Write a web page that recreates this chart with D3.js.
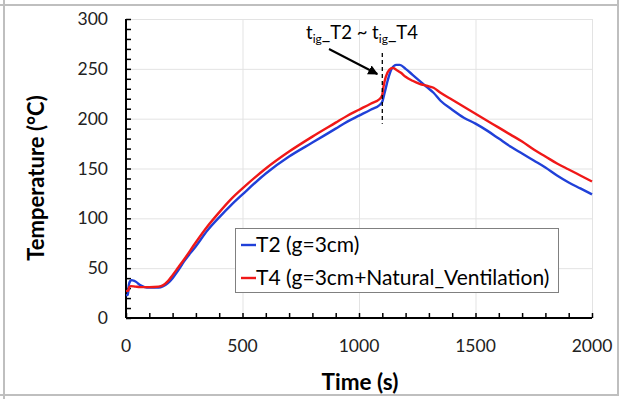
<!DOCTYPE html>
<html>
<head>
<meta charset="utf-8">
<script src="https://cdn.jsdelivr.net/npm/d3@7"></script>
<style>
  body { margin: 0; background: #fff; }
  svg { display: block; font-family: Lato, "Open Sans", sans-serif; }
</style>
</head>
<body>
<svg id="chart" width="622" height="399"></svg>
<script>
// data
const t2Time = [0, 8, 12, 18, 25, 33, 45, 60, 80, 100, 140, 160, 180, 200, 225, 250, 300, 350, 400, 450, 500, 600, 700, 800, 900, 950, 1000, 1050, 1090, 1100, 1110, 1125, 1140, 1160, 1175, 1200, 1230, 1260, 1290, 1320, 1350, 1400, 1450, 1500, 1550, 1600, 1650, 1700, 1750, 1800, 1850, 1900, 1950, 2000];
const t2Temp = [23, 23, 33, 37, 38, 37.5, 36, 33, 31, 30.5, 30.5, 32, 35, 40, 48, 57, 72, 88, 101, 113, 124, 145, 162, 176, 190, 197, 203, 209, 214, 217, 226, 240, 250, 254, 254, 250, 244, 238, 232, 226, 218, 209, 201, 195, 188, 180, 172, 165, 158, 151, 143, 136, 130, 124];

const t4Time = [0, 10, 14, 20, 40, 60, 100, 140, 160, 180, 200, 225, 250, 300, 350, 400, 450, 500, 600, 700, 800, 900, 950, 1000, 1050, 1090, 1100, 1105, 1115, 1130, 1145, 1160, 1180, 1200, 1230, 1260, 1290, 1320, 1350, 1400, 1450, 1500, 1550, 1600, 1650, 1700, 1750, 1800, 1850, 1900, 1950, 2000];
const t4Temp = [27, 27.5, 31, 32, 31.5, 31, 31, 31.5, 33, 37, 43, 51, 59, 76, 92, 106, 119, 130, 150, 167, 182, 196, 203, 209, 215, 220, 224, 232, 242, 249, 251, 249, 246, 242, 238, 235, 233, 231, 226, 219, 212, 205, 198, 191, 184, 177, 169, 162, 155, 149, 143, 137];

const xTicks = [0, 500, 1000, 1500, 2000];
const yTicks = [0, 50, 100, 150, 200, 250, 300];
const legendLabels = ["T2 (g=3cm)", "T4 (g=3cm+Natural_Ventilation)"];
const igTime = 1100;

const svg = d3.select('#chart');

// page frame lines around the figure
const frame = svg.append('g').attr('stroke', '#bfbfbf').attr('stroke-width', 2);
frame.append('line').attr('x1', 0).attr('x2', 619).attr('y1', 5).attr('y2', 5);
frame.append('line').attr('x1', 4).attr('x2', 4).attr('y1', 0).attr('y2', 399);
frame.append('line').attr('x1', 618).attr('x2', 618).attr('y1', 0).attr('y2', 396);
frame.append('line').attr('x1', 0).attr('x2', 619).attr('y1', 395).attr('y2', 395);

// clipped text from the page above
svg.append('text').attr('x', 328).attr('y', -3).attr('font-size', 18).text(',');
svg.append('text').attr('x', 358).attr('y', -3).attr('font-size', 18).text('y');

const x = d3.scaleLinear().domain([0, 2000]).range([126, 592]);
const y = d3.scaleLinear().domain([0, 300]).range([318, 19]);

// gridlines
const grid = svg.append('g').attr('stroke', '#e3e3e3').attr('stroke-width', 1);
grid.selectAll('.gy').data(yTicks.slice(1)).join('line')
  .attr('x1', x(0)).attr('x2', x(2000))
  .attr('y1', d => y(d) + 0.5).attr('y2', d => y(d) + 0.5);
grid.selectAll('.gx').data(xTicks.slice(1)).join('line')
  .attr('y1', y(0)).attr('y2', y(300))
  .attr('x1', d => x(d) + 0.5).attr('x2', d => x(d) + 0.5);

// axes with inside ticks
const yAxis = svg.append('g').attr('transform', `translate(${x(0)},0)`)
  .call(d3.axisRight(y).tickValues(d3.range(0, 301, 10)).tickSize(5).tickFormat(''));
yAxis.select('.domain').attr('stroke-width', 2).attr('d', `M0,${y(0)}V${y(300)}`);
yAxis.selectAll('.tick line').attr('stroke-width', 1.5);

const xAxis = svg.append('g').attr('transform', `translate(0,${y(0)})`)
  .call(d3.axisTop(x).tickValues(d3.range(0, 2001, 100)).tickSize(5).tickFormat(''));
xAxis.select('.domain').attr('stroke-width', 2).attr('d', `M${x(0)},0H${x(2000)}`);
xAxis.selectAll('.tick line').attr('stroke-width', 1.5);

// tick labels
svg.append('g').selectAll('text').data(yTicks).join('text')
  .attr('x', 108).attr('y', d => y(d)).attr('dy', '0.35em')
  .attr('text-anchor', 'end').attr('font-size', 17.5).attr('fill', '#222')
  .text(d => d);
svg.append('g').selectAll('text').data(xTicks).join('text')
  .attr('x', d => x(d)).attr('y', 346).attr('dy', '0.35em')
  .attr('text-anchor', 'middle').attr('font-size', 17.5).attr('fill', '#222')
  .text(d => d);

// axis titles
svg.append('text').attr('x', 360).attr('y', 382).attr('dy', '0.35em')
  .attr('text-anchor', 'middle').attr('font-size', 22.5).attr('font-weight', 'bold')
  .text('Time (s)');
svg.append('text').attr('transform', 'translate(36,178) rotate(-90)').attr('dy', '0.35em')
  .attr('text-anchor', 'middle').attr('font-size', 22).attr('font-weight', 'bold')
  .text('Temperature (°C)');

// curves
const series = [
  { time: t2Time, temp: t2Temp, color: '#2040d8' },
  { time: t4Time, temp: t4Temp, color: '#f01818' }
];
const line = d3.line().x(d => x(d[0])).y(d => y(d[1])).curve(d3.curveMonotoneX);
series.forEach(s => {
  svg.append('path')
    .datum(s.time.map((t, i) => [t, s.temp[i]]))
    .attr('fill', 'none').attr('stroke', s.color).attr('stroke-width', 2.4)
    .attr('stroke-linejoin', 'round')
    .attr('d', line);
});

// ignition marker
svg.append('line')
  .attr('x1', x(igTime)).attr('x2', x(igTime))
  .attr('y1', y(266)).attr('y2', y(195))
  .attr('stroke', '#000').attr('stroke-width', 1.3).attr('stroke-dasharray', '4,3');

svg.append('defs').append('marker')
  .attr('id', 'arrow').attr('viewBox', '0 0 10 10').attr('refX', 9).attr('refY', 5)
  .attr('markerWidth', 5).attr('markerHeight', 5).attr('orient', 'auto')
  .append('path').attr('d', 'M0,0L10,5L0,10z').attr('fill', '#000');
svg.append('line')
  .attr('x1', 329).attr('y1', 49).attr('x2', x(igTime) - 5).attr('y2', 74)
  .attr('stroke', '#000').attr('stroke-width', 2).attr('marker-end', 'url(#arrow)');

const ann = svg.append('text').attr('x', 306).attr('y', 39).attr('font-size', 18.5);
ann.append('tspan').text('t');
ann.append('tspan').attr('font-size', 12).attr('dy', 4).text('ig');
ann.append('tspan').attr('dy', -4).text('_T2 ~ t');
ann.append('tspan').attr('font-size', 12).attr('dy', 4).text('ig');
ann.append('tspan').attr('dy', -4).text('_T4');

// legend
const legend = svg.append('g');
legend.append('rect').attr('x', 235.5).attr('y', 228.5).attr('width', 323).attr('height', 64)
  .attr('fill', '#fff').attr('stroke', '#808080').attr('stroke-width', 1);
const entries = legend.selectAll('g').data(series).join('g')
  .attr('transform', (d, i) => `translate(241,${245 + i * 33})`);
entries.append('line').attr('x1', 0).attr('x2', 15)
  .attr('stroke', d => d.color).attr('stroke-width', 2.4);
entries.append('text').attr('x', 15).attr('dy', '0.35em').attr('font-size', 21)
  .text((d, i) => legendLabels[i]);
</script>
</body>
</html>
